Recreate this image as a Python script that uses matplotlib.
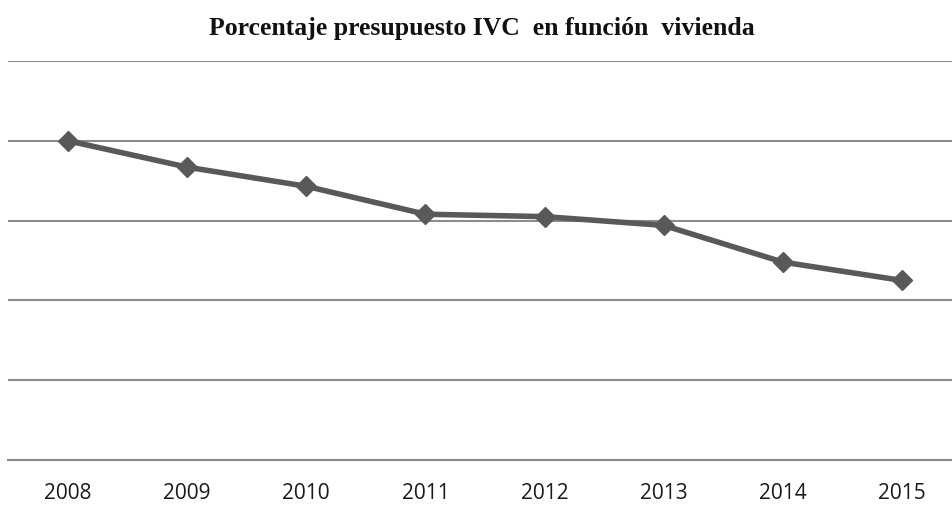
import matplotlib
matplotlib.use("Agg")
import matplotlib.pyplot as plt

years = ["2008", "2009", "2010", "2011", "2012", "2013", "2014", "2015"]
values = [4.00, 3.67, 3.43, 3.08, 3.05, 2.94, 2.48, 2.25]
title = "Porcentaje presupuesto IVC  en función  vivienda"

fig = plt.figure(figsize=(9.53, 5.06), dpi=100)
ax = fig.add_axes([8.4 / 953, 1 - 461 / 506, 953.2 / 953, (461 - 62) / 506])

x = list(range(len(years)))
ax.plot(x, values, color="#595959", linewidth=4, marker="D", markersize=10,
        markerfacecolor="#595959", markeredgecolor="#595959", zorder=3)

ax.set_xlim(-0.5, len(years) - 0.5)
ax.set_ylim(0, 5)
ax.set_yticks([0, 1, 2, 3, 4, 5])
ax.yaxis.grid(True, color="#8c8c8c", linewidth=1.5)
ax.set_yticklabels([])
ax.tick_params(axis="y", length=0)
ax.set_xticks(x)
ax.set_xticklabels(years, fontfamily="Open Sans", fontsize=15, color="#1a1a1a")
ax.tick_params(axis="x", length=0, pad=16)
for s in ["top", "right", "left"]:
    ax.spines[s].set_visible(False)
ax.spines["bottom"].set_color("#8c8c8c")
ax.spines["bottom"].set_linewidth(1.5)

fig.text(482 / 953, 1 - 28 / 506, title, ha="center", va="center",
         fontfamily="Liberation Serif", fontweight="bold", fontsize=18.5, color="#111111")

fig.savefig("out.png", dpi=100)
